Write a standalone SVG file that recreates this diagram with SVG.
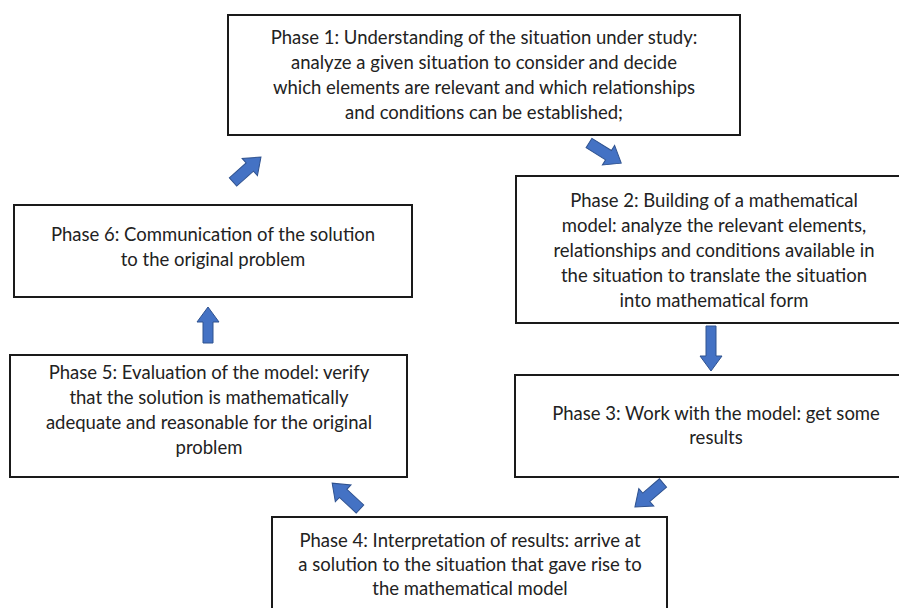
<svg xmlns="http://www.w3.org/2000/svg" width="899" height="608" viewBox="0 0 899 608">
<style>
.box{fill:#fff;stroke:#1a1a1a;stroke-width:2}
.t{font-family:Lato,"Liberation Sans",sans-serif;font-size:18.5px;fill:#222;text-anchor:middle}
.arr{fill:#4472C4;stroke:#2F528F;stroke-width:1}
</style>
<rect width="899" height="608" fill="#fff"/>
<g id="phase1">
<rect class="box" x="228" y="15" width="512" height="120"/>
<text class="t" x="484" y="44">Phase 1: Understanding of the situation under study:</text>
<text class="t" x="484" y="69">analyze a given situation to consider and decide</text>
<text class="t" x="484" y="94">which elements are relevant and which relationships</text>
<text class="t" x="484" y="119">and conditions can be established;</text>
</g>
<g id="phase2">
<rect class="box" x="516" y="176" width="397" height="147"/>
<text class="t" x="714" y="207">Phase 2: Building of a mathematical</text>
<text class="t" x="714" y="232">model: analyze the relevant elements,</text>
<text class="t" x="714" y="257">relationships and conditions available in</text>
<text class="t" x="714" y="282">the situation to translate the situation</text>
<text class="t" x="714" y="307">into mathematical form</text>
</g>
<g id="phase3">
<rect class="box" x="515" y="375" width="397" height="102"/>
<text class="t" x="716" y="420">Phase 3: Work with the model: get some</text>
<text class="t" x="716" y="444">results</text>
</g>
<g id="phase4">
<rect class="box" x="272" y="517" width="395" height="110"/>
<text class="t" x="470" y="547">Phase 4: Interpretation of results: arrive at</text>
<text class="t" x="470" y="571">a solution to the situation that gave rise to</text>
<text class="t" x="470" y="595">the mathematical model</text>
</g>
<g id="phase5">
<rect class="box" x="10" y="355" width="397" height="122"/>
<text class="t" x="209" y="379">Phase 5: Evaluation of the model: verify</text>
<text class="t" x="209" y="404">that the solution is mathematically</text>
<text class="t" x="209" y="429">adequate and reasonable for the original</text>
<text class="t" x="209" y="454">problem</text>
</g>
<g id="phase6">
<rect class="box" x="14" y="205" width="398" height="92"/>
<text class="t" x="213" y="241">Phase 6: Communication of the solution</text>
<text class="t" x="213" y="266">to the original problem</text>
</g>
<g id="connectors">
<path class="arr" transform="translate(589,143) rotate(32)" d="M0,-5.5H23V-11.5L38,0L23,11.5V5.5H0Z"/>
<path class="arr" transform="translate(711,326) rotate(90)" d="M0,-5H30V-11L45,0L30,11V5H0Z"/>
<path class="arr" transform="translate(663,483) rotate(139.4)" d="M0,-5.5H22V-11.5L37,0L22,11.5V5.5H0Z"/>
<path class="arr" transform="translate(360,509) rotate(-137.1)" d="M0,-5.5H23V-11.5L38,0L23,11.5V5.5H0Z"/>
<path class="arr" transform="translate(208,343) rotate(-90)" d="M0,-5H21V-11L36,0L21,11V5H0Z"/>
<path class="arr" transform="translate(233,182) rotate(-41.8)" d="M0,-5.5H22.5V-11.5L37.5,0L22.5,11.5V5.5H0Z"/>
</g>
</svg>
